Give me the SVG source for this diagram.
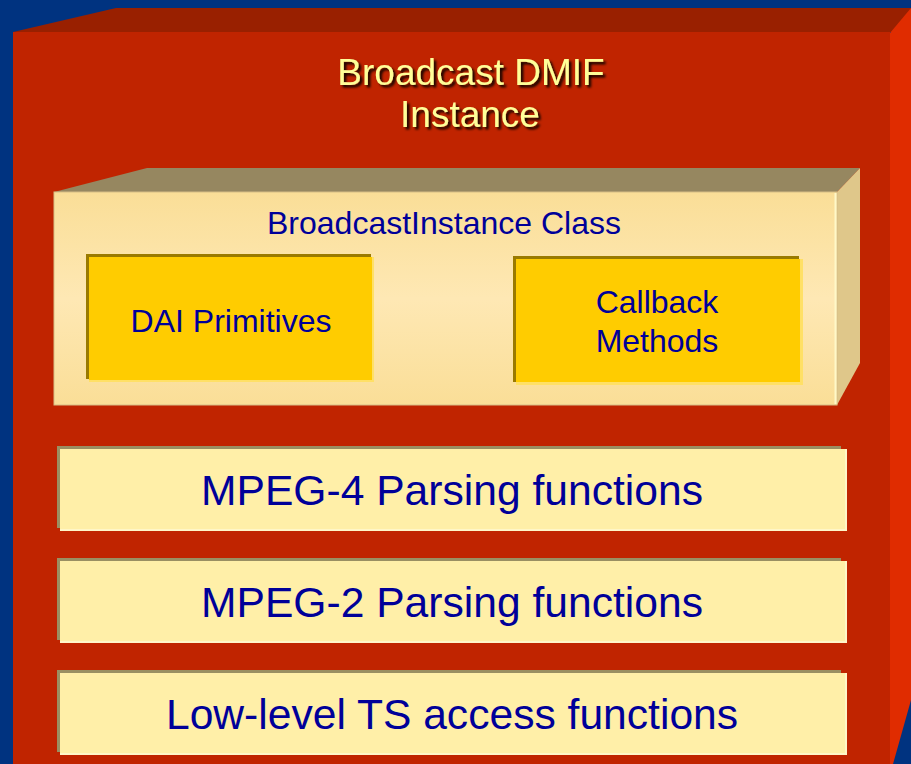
<svg xmlns="http://www.w3.org/2000/svg" width="911" height="764" viewBox="0 0 911 764">
  <defs>
    <style>
      .label { font-family: "Liberation Sans", Arial, sans-serif; fill: #000099; text-anchor: middle; }
      .small { font-size: 32px; }
      .big { font-size: 42.6px; }
      .title { font-family: "Liberation Sans", Arial, sans-serif; fill: #FFFF99; text-anchor: middle; font-size: 37px; }
      .bar-edge { fill: #9A8F62; }
      .bar-light { fill: #FFF6C8; }
      .bar-fill { fill: #FFEFA8; }
      .prim-edge { fill: #9A7A00; }
      .prim-light { fill: #FFE066; }
      .prim-fill { fill: #FFCC00; }
    </style>
    <linearGradient id="classFront" x1="0" y1="0" x2="0" y2="1">
      <stop offset="0" stop-color="#FADE97"/>
      <stop offset="0.5" stop-color="#FEE8B4"/>
      <stop offset="1" stop-color="#FADE97"/>
    </linearGradient>
    <filter id="shadow" x="-10%" y="-20%" width="130%" height="150%">
      <feDropShadow dx="2.5" dy="2.5" stdDeviation="1" flood-color="#000000" flood-opacity="0.9"/>
    </filter>
  </defs>

  <!-- backdrop -->
  <rect x="0" y="0" width="911" height="764" fill="#003380"/>

  <!-- outer instance block -->
  <g id="dmif-instance">
    <polygon points="13,32 116,8 911,8 911,32" fill="#992000"/>
    <polygon points="890,33 911,8 911,700 893,764 890,764" fill="#E02C00"/>
    <rect x="13" y="32" width="877" height="732" fill="#C02400"/>
    <text class="title" x="471" y="85" filter="url(#shadow)">Broadcast DMIF</text>
    <text class="title" x="470" y="127" filter="url(#shadow)">Instance</text>
  </g>

  <!-- class block -->
  <g id="broadcast-instance-class">
    <polygon points="54,192 147,168 860,168 837,192" fill="#968760"/>
    <polygon points="837,192 860,168 860,363 837,405" fill="#DFC78A"/>
    <rect x="54" y="192" width="783" height="213" fill="url(#classFront)" stroke="#D6BE86" stroke-width="1"/>
    <line x1="835.5" y1="193" x2="835.5" y2="404" stroke="#FFF8C8" stroke-width="2"/>
    <text class="label small" x="444" y="234">BroadcastInstance Class</text>
  </g>

  <g id="dai-primitives">
    <rect class="prim-edge" x="86" y="254" width="285" height="125"/>
    <rect class="prim-light" x="89" y="257" width="285" height="125"/>
    <rect class="prim-fill" x="89" y="257" width="283" height="123"/>
    <text class="label small" x="231" y="332">DAI Primitives</text>
  </g>

  <g id="callback-methods">
    <rect class="prim-edge" x="513" y="256" width="286" height="126"/>
    <rect class="prim-light" x="516" y="259" width="287" height="126"/>
    <rect class="prim-fill" x="516" y="259" width="284" height="123"/>
    <text class="label small" x="657" y="313">Callback</text>
    <text class="label small" x="657" y="352">Methods</text>
  </g>

  <!-- function layers -->
  <g id="mpeg4-parsing">
    <rect class="bar-edge" x="57" y="446" width="784" height="82"/>
    <rect class="bar-light" x="60" y="449" width="787" height="82"/>
    <rect class="bar-fill" x="60" y="449" width="785" height="80"/>
    <text class="label big" x="452" y="505">MPEG-4 Parsing functions</text>
  </g>

  <g id="mpeg2-parsing">
    <rect class="bar-edge" x="57" y="558" width="784" height="82"/>
    <rect class="bar-light" x="60" y="561" width="787" height="82"/>
    <rect class="bar-fill" x="60" y="561" width="785" height="80"/>
    <text class="label big" x="452" y="617">MPEG-2 Parsing functions</text>
  </g>

  <g id="ts-access">
    <rect class="bar-edge" x="57" y="670" width="784" height="82"/>
    <rect class="bar-light" x="60" y="673" width="787" height="82"/>
    <rect class="bar-fill" x="60" y="673" width="785" height="80"/>
    <text class="label big" x="452" y="729">Low-level TS access functions</text>
  </g>
</svg>
